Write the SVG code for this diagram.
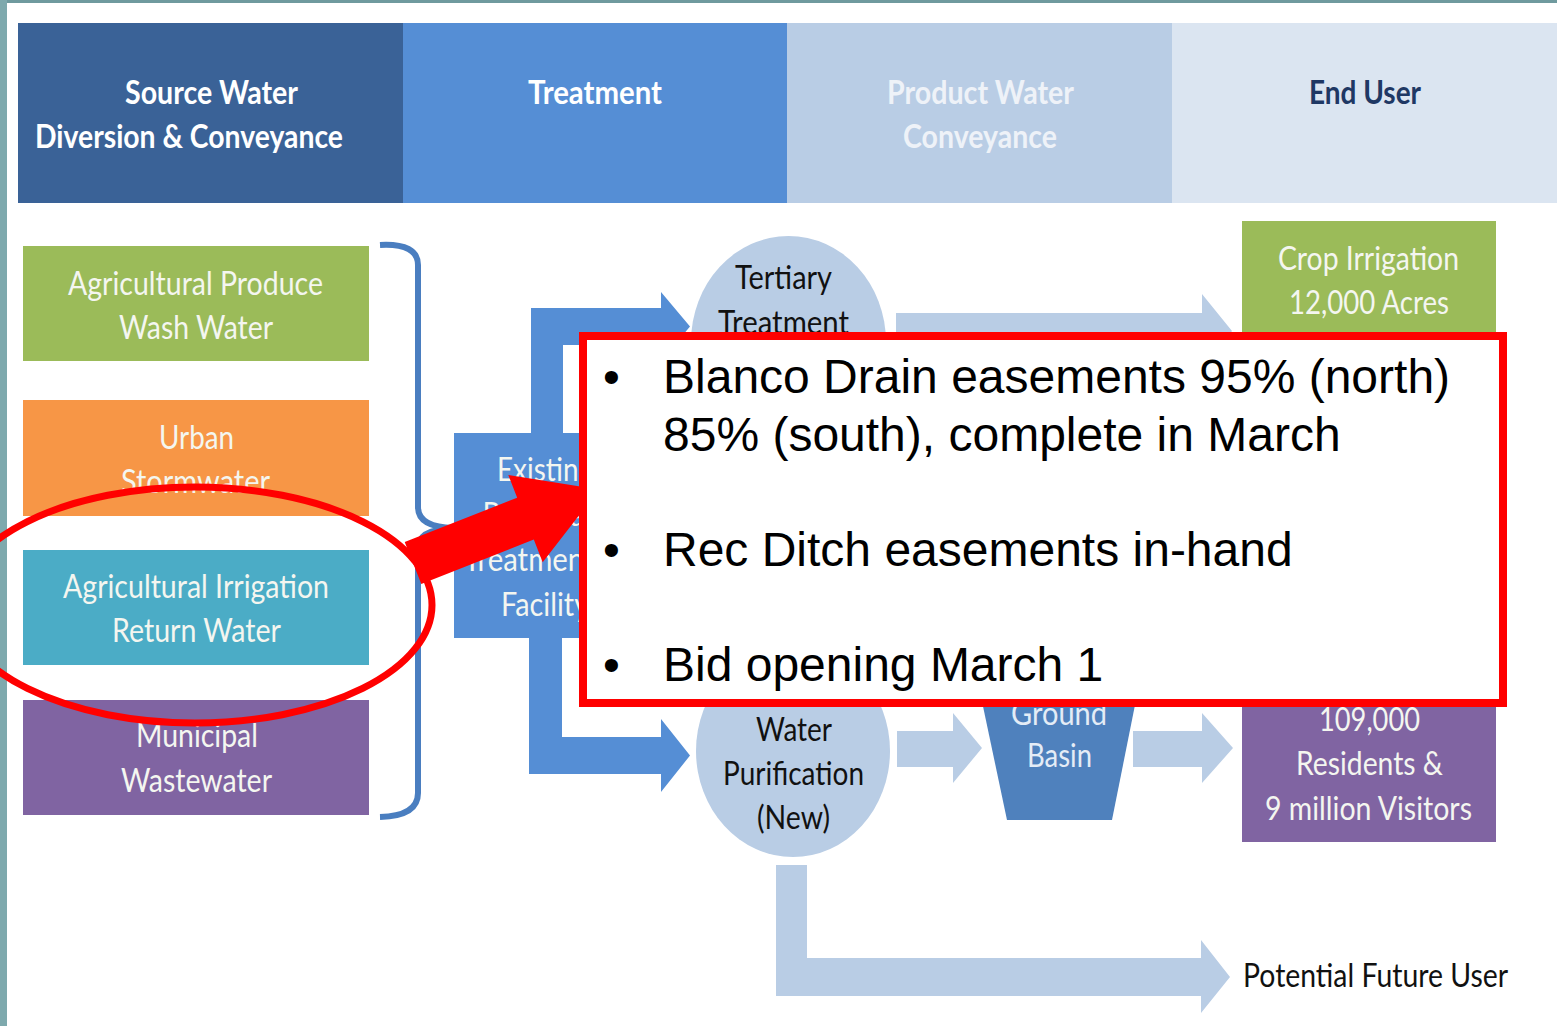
<svg xmlns="http://www.w3.org/2000/svg" width="1557" height="1026" viewBox="0 0 1557 1026">
<defs>
<style>
.hd{font-family:Lato,"Open Sans","Liberation Sans",sans-serif;font-weight:bold;font-size:33px;text-anchor:middle}
.lb{font-family:Lato,"Open Sans","Liberation Sans",sans-serif;font-size:33px;text-anchor:middle}
.le{font-family:Lato,"Open Sans","Liberation Sans",sans-serif;font-size:33px;text-anchor:end}
.wt{fill:#f4f6f0}
.bk{fill:#111111}
.big{font-family:"Liberation Sans",Arial,sans-serif;font-size:48px;fill:#000000}
.dark{fill:#558ed5}
.light{fill:#b9cde5}
</style>
<clipPath id="clipExisting"><rect x="440" y="420" width="139" height="230"/></clipPath>
</defs>
<rect x="0" y="0" width="1557" height="1026" fill="#ffffff"/>
<rect x="0" y="0" width="1557" height="3" fill="#6f9a9e"/>
<rect x="0" y="0" width="7" height="1026" fill="#7ea9ad"/>

<g id="header">
<rect x="18" y="23" width="385" height="180" fill="#3a6297"/>
<rect x="403" y="23" width="384" height="180" fill="#558ed5"/>
<rect x="787" y="23" width="385" height="180" fill="#b9cde5"/>
<rect x="1172" y="23" width="385" height="180" fill="#dbe5f1"/>
<text class="hd" fill="#ffffff" x="211.5" y="104" textLength="173" lengthAdjust="spacingAndGlyphs">Source Water</text>
<text class="hd" fill="#ffffff" x="189" y="148" textLength="308" lengthAdjust="spacingAndGlyphs">Diversion &amp; Conveyance</text>
<text class="hd" fill="#ffffff" x="595" y="104" textLength="134" lengthAdjust="spacingAndGlyphs">Treatment</text>
<text class="hd" fill="#eef2f8" x="980.5" y="104" textLength="187" lengthAdjust="spacingAndGlyphs">Product Water</text>
<text class="hd" fill="#eef2f8" x="980" y="148" textLength="154" lengthAdjust="spacingAndGlyphs">Conveyance</text>
<text class="hd" fill="#1f3864" x="1365" y="104" textLength="112" lengthAdjust="spacingAndGlyphs">End User</text>
</g>

<g id="connectors">
<path d="M380,245 Q418,243 418,265 L418,507 Q418,527 453,528 Q418,529 418,549 L418,793 Q418,816 380,817" fill="none" stroke="#4a7ec0" stroke-width="6"/>
<path class="dark" d="M531,433 L531,308 L661,308 L661,292 L690,326.5 L661,361 L661,345 L563,345 L563,433 Z"/>
<path class="dark" d="M529,638 L529,774 L661,774 L661,792 L690,755.5 L661,719 L661,737 L562,737 L562,638 Z"/>
<path class="light" d="M896,313 L1202,313 L1202,294 L1232,331 L1202,368 L1202,349 L896,349 Z"/>
<path class="light" d="M897,731 L953,731 L953,713 L982,748 L953,783 L953,767 L897,767 Z"/>
<path class="light" d="M1133,731 L1202,731 L1202,713 L1233,748 L1202,783 L1202,767 L1133,767 Z"/>
<path class="light" d="M776,865 L807,865 L807,958 L1201,958 L1201,940 L1230,977 L1201,1013 L1201,996 L776,996 Z"/>
</g>

<g id="src-wash">
<rect x="23" y="246" width="346" height="115" fill="#9bbb59"/>
<text class="lb wt" x="195.5" y="295" textLength="255" lengthAdjust="spacingAndGlyphs">Agricultural Produce</text>
<text class="lb wt" x="196" y="339" textLength="154" lengthAdjust="spacingAndGlyphs">Wash Water</text>
</g>
<g id="src-storm">
<rect x="23" y="400" width="346" height="116" fill="#f79646"/>
<text class="lb wt" x="196.5" y="449" textLength="75" lengthAdjust="spacingAndGlyphs">Urban</text>
<text class="lb wt" x="195.5" y="493" textLength="149" lengthAdjust="spacingAndGlyphs">Stormwater</text>
</g>
<g id="src-irrigation">
<rect x="23" y="550" width="346" height="115" fill="#4bacc6"/>
<text class="lb wt" x="196" y="598" textLength="266" lengthAdjust="spacingAndGlyphs">Agricultural Irrigation</text>
<text class="lb wt" x="196.5" y="642" textLength="169" lengthAdjust="spacingAndGlyphs">Return Water</text>
</g>
<g id="src-municipal">
<rect x="23" y="700" width="346" height="115" fill="#8064a2"/>
<text class="lb wt" x="197" y="747" textLength="122" lengthAdjust="spacingAndGlyphs">Municipal</text>
<text class="lb wt" x="196.5" y="792" textLength="151" lengthAdjust="spacingAndGlyphs">Wastewater</text>
</g>

<g id="existing" clip-path="url(#clipExisting)">
<rect x="454" y="433" width="174" height="205" fill="#558ed5"/>
<text class="lb wt" x="545" y="481" textLength="96" lengthAdjust="spacingAndGlyphs">Existing</text>
<text class="le wt" x="591.5" y="526" text-anchor="end" textLength="109" lengthAdjust="spacingAndGlyphs">Regional</text>
<text class="le wt" x="594.5" y="571" text-anchor="end" textLength="131" lengthAdjust="spacingAndGlyphs">Treatment</text>
<text class="lb wt" x="545" y="616" textLength="88" lengthAdjust="spacingAndGlyphs">Facility</text>
</g>

<g id="tertiary">
<ellipse cx="788.5" cy="342" rx="97.5" ry="106" fill="#b9cde5"/>
<text class="lb bk" x="783.5" y="289" textLength="97" lengthAdjust="spacingAndGlyphs">Tertiary</text>
<text class="lb bk" x="783.5" y="334" textLength="131" lengthAdjust="spacingAndGlyphs">Treatment</text>
</g>

<g id="purification">
<ellipse cx="793" cy="751" rx="97" ry="106" fill="#b9cde5"/>
<text class="lb bk" x="794" y="741" textLength="76" lengthAdjust="spacingAndGlyphs">Water</text>
<text class="lb bk" x="793.5" y="785" textLength="141" lengthAdjust="spacingAndGlyphs">Purification</text>
<text class="lb bk" x="793.5" y="829" textLength="73" lengthAdjust="spacingAndGlyphs">(New)</text>
</g>

<g id="basin">
<polygon points="969,640 1148,640 1112,820 1007,820" fill="#4f81bd"/>
<text class="lb" fill="#e4ecf6" x="1059" y="725" textLength="96" lengthAdjust="spacingAndGlyphs">Ground</text>
<text class="lb" fill="#e4ecf6" x="1059.5" y="767" textLength="65" lengthAdjust="spacingAndGlyphs">Basin</text>
</g>

<g id="crop">
<rect x="1242" y="221" width="254" height="180" fill="#9bbb59"/>
<text class="lb wt" x="1368.5" y="270" textLength="181" lengthAdjust="spacingAndGlyphs">Crop Irrigation</text>
<text class="lb wt" x="1369" y="314" textLength="160" lengthAdjust="spacingAndGlyphs">12,000 Acres</text>
</g>

<g id="residents">
<rect x="1242" y="640" width="254" height="202" fill="#8064a2"/>
<text class="lb wt" x="1369.5" y="731" textLength="101" lengthAdjust="spacingAndGlyphs">109,000</text>
<text class="lb wt" x="1369.5" y="775" textLength="147" lengthAdjust="spacingAndGlyphs">Residents &amp;</text>
<text class="lb wt" x="1368.5" y="820" textLength="207" lengthAdjust="spacingAndGlyphs">9 million Visitors</text>
</g>

<g id="future">
<text class="lb bk" x="1375.5" y="987" textLength="265" lengthAdjust="spacingAndGlyphs">Potential Future User</text>
</g>

<g id="callout">
<ellipse cx="195" cy="605" rx="237" ry="118" fill="none" stroke="#ff0000" stroke-width="7"/>
<polygon points="404.7,542.1 517.2,497.7 508.3,474.9 599,489.6 542.7,562.3 533.8,539.5 421.3,583.9" fill="#ff0000"/>
<rect x="583" y="336" width="920" height="367" fill="#ffffff" stroke="#ff0000" stroke-width="8"/>
<text class="big" x="603" y="393">•</text>
<text class="big" x="663" y="393">Blanco Drain easements 95% (north)</text>
<text class="big" x="663" y="451">85% (south), complete in March</text>
<text class="big" x="603" y="566">•</text>
<text class="big" x="663" y="566">Rec Ditch easements in-hand</text>
<text class="big" x="603" y="681">•</text>
<text class="big" x="663" y="681">Bid opening March 1</text>
</g>
</svg>
